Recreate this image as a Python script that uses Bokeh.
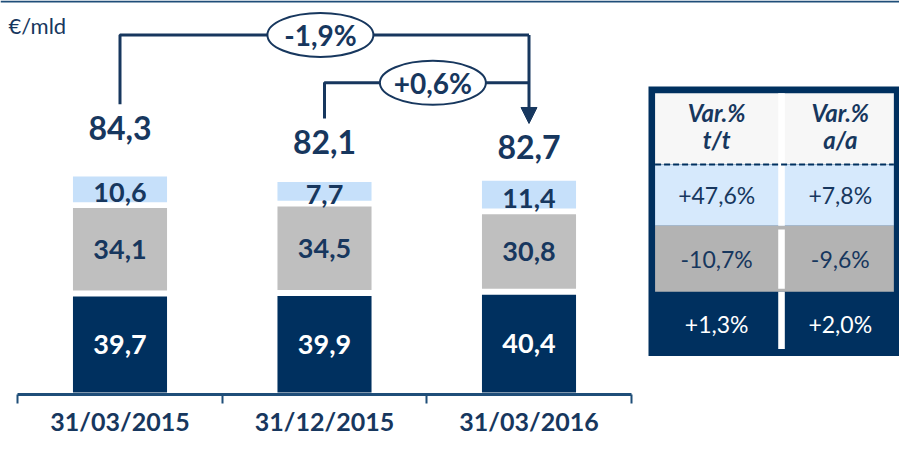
from bokeh.plotting import figure
from bokeh.models import Range1d, LinearAxis, FixedTicker, Span, Arrow, NormalHead
from bokeh.core.properties import value
from bokeh.embed import file_html
from bokeh.resources import INLINE

# ---------------- data ----------------
dates = ["31/03/2015", "31/12/2015", "31/03/2016"]
seg_bottom = [39.7, 39.9, 40.4]   # dark navy segment
seg_middle = [34.1, 34.5, 30.8]   # grey segment
seg_top = [10.6, 7.7, 11.4]       # light blue segment
totals = [84.3, 82.1, 82.7]
var_labels = ["-1,9%", "+0,6%"]
unit_label = "€/mld"
table_head_1 = ["Var.%", "Var.%"]
table_head_2 = ["t/t", "a/a"]
var_tt = ["+47,6%", "-10,7%", "+1,3%"]   # rows: light blue, grey, navy
var_aa = ["+7,8%", "-9,6%", "+2,0%"]

# ---------------- styles / layout ----------------
NAVY = "#00305F"
GREY = "#BFBFBF"
LIGHT = "#C6E0FA"
TXT = "#17375E"
AXIS = "#1F4E79"
T_HEAD = "#F7F7F7"
T_LIGHT = "#D6E9FC"
T_GREY = "#B3B3B3"
FONT = value("Lato")

W, H = 899, 438
PX_X, PX_Y = 204.5, 2.45   # pixels per data unit
X0_PX, Y0_PX = 119.5, 397  # pixel position of x=0 / y=0
GAP = 2.45          # white gap between stacked segments (data units)
BAR_W = 0.46
LABEL_LIFT = [20.2, 16.6, 14.0]   # total label height above the stack
CONNECT = 9.7                     # connector gap above total label
LEVEL_1, LEVEL_2 = 147.8, 128.0   # heights of the two bracket lines
ELL_X = [0.98, 1.53]


def fmt(v):
    return f"{v:.1f}".replace(".", ",")


def tx(px):   # layout helper: pixel -> data x
    return (px - X0_PX) / PX_X


def ty(py):   # layout helper: pixel -> data y
    return (Y0_PX - py) / PX_Y


def ttx(px):  # table squeezed to fit the canvas width
    return tx(648 + (px - 648) * (W - 648) / (915 - 648))


FRAME_H = 399
p = figure(width=W, height=H, x_range=Range1d(tx(0), tx(W)), y_range=Range1d(ty(FRAME_H), ty(0)),
           output_backend="svg", toolbar_location=None, x_axis_type=None, y_axis_type=None,
           min_border=0, min_border_bottom=H - FRAME_H, outline_line_color=None)
p.background_fill_color = "white"
p.border_fill_color = "white"

xs = list(range(len(dates)))

# stacked bars with gaps
top0 = seg_bottom[:]
bot1 = [t + GAP for t in top0]
top1 = [b + v for b, v in zip(bot1, seg_middle)]
bot2 = [t + GAP for t in top1]
top2 = [b + v for b, v in zip(bot2, seg_top)]

p.vbar(x=xs, bottom=0, top=top0, width=BAR_W, fill_color=NAVY, line_color=None)
p.vbar(x=xs, bottom=bot1, top=top1, width=BAR_W, fill_color=GREY, line_color=None)
p.vbar(x=xs, bottom=bot2, top=top2, width=BAR_W, fill_color=LIGHT, line_color=None)

p.text(x=xs, y=[v / 2 for v in top0], text=[fmt(v) for v in seg_bottom], text_font=FONT,
       text_font_size="27px", text_font_style="bold", text_color="white",
       text_align="center", text_baseline="middle")
p.text(x=xs, y=[(a + b) / 2 for a, b in zip(bot1, top1)], text=[fmt(v) for v in seg_middle],
       text_font=FONT, text_font_size="27px", text_font_style="bold", text_color=TXT,
       text_align="center", text_baseline="middle")
p.text(x=xs, y=[(a + b) / 2 - 1.5 for a, b in zip(bot2, top2)], text=[fmt(v) for v in seg_top],
       text_font=FONT, text_font_size="27px", text_font_style="bold", text_color=TXT,
       text_align="center", text_baseline="middle")

# totals
tot_y = [t + l for t, l in zip(top2, LABEL_LIFT)]
p.text(x=xs, y=tot_y, text=[fmt(v) for v in totals], text_font=FONT, text_font_size="32px",
       text_font_style="bold", text_color=TXT, text_align="center", text_baseline="middle")

# bracket connectors
p.line(x=[xs[0], xs[0], xs[2]], y=[tot_y[0] + CONNECT, LEVEL_1, LEVEL_1], line_color=TXT, line_width=3)
p.line(x=[xs[1], xs[1], xs[2]], y=[tot_y[1] + CONNECT, LEVEL_2, LEVEL_2], line_color=TXT, line_width=3)
p.add_layout(Arrow(end=NormalHead(size=16, fill_color=TXT, line_color=TXT),
                   x_start=xs[2], y_start=LEVEL_1, x_end=xs[2], y_end=tot_y[2] + CONNECT,
                   line_color=TXT, line_width=3))
p.ellipse(x=ELL_X, y=[LEVEL_1, LEVEL_2], width=106, height=44, width_units="screen",
          height_units="screen", fill_color="white", line_color=TXT, line_width=2)
p.text(x=ELL_X, y=[LEVEL_1, LEVEL_2], text=var_labels, text_font=FONT, text_font_size="28px",
       text_font_style="bold", text_color=TXT, text_align="center", text_baseline="middle")

# unit label
p.text(x=[tx(8)], y=[ty(25)], text=[unit_label], text_font=FONT, text_font_size="22px",
       text_color=TXT, text_align="left", text_baseline="middle")

# top rule
p.add_layout(Span(location=ty(1), dimension="width", line_color=AXIS, line_width=2))

# x axis with boundary ticks
ax = LinearAxis(ticker=FixedTicker(ticks=xs, minor_ticks=[-0.5, 0.5, 1.5, 2.5]), bounds=(-0.5, 2.5),
                major_label_overrides={i: d for i, d in enumerate(dates)},
                axis_line_color=AXIS, axis_line_width=3,
                major_tick_line_color=None, major_tick_out=0, major_tick_in=0,
                minor_tick_line_color=AXIS, minor_tick_line_width=2, minor_tick_out=9, minor_tick_in=0,
                major_label_standoff=2, major_label_text_font="Lato",
                major_label_text_font_size="25px", major_label_text_font_style="bold",
                major_label_text_color=TXT)
p.add_layout(ax, "below")

# ---------------- table ----------------
row_edges = [94, 166, 228, 295, 360]
row_fill = [T_HEAD, T_LIGHT, T_GREY]
col_c = [720.5, 852]

p.quad(left=[ttx(648)], right=[ttx(915)], top=[ty(87)], bottom=[ty(360)], fill_color=NAVY, line_color=None)
p.quad(left=[ttx(655)] * 3, right=[ttx(909)] * 3, top=[ty(r) for r in row_edges[:3]],
       bottom=[ty(r) for r in row_edges[1:4]], fill_color=row_fill, line_color=None)
# white column divider pieces
p.quad(left=[ttx(786)] * 3, right=[ttx(793)] * 3, top=[ty(94), ty(232), ty(295)],
       bottom=[ty(228), ty(292), ty(353)], fill_color="white", line_color=None)
p.line(x=[ttx(655), ttx(909)], y=[ty(166), ty(166)], line_color=NAVY, line_width=2, line_dash="6 3")

p.text(x=[ttx(c) for c in col_c], y=[ty(113)] * 2, text=table_head_1, text_font=FONT,
       text_font_size="24px", text_font_style="bold italic", text_color=TXT,
       text_align="center", text_baseline="middle")
p.text(x=[ttx(c) for c in col_c], y=[ty(141)] * 2, text=table_head_2, text_font=FONT,
       text_font_size="24px", text_font_style="bold italic", text_color=TXT,
       text_align="center", text_baseline="middle")
row_mid = [(a + b) / 2 for a, b in zip(row_edges[1:4], row_edges[2:5])]
row_col = [TXT, TXT, "white"]
for vals, c in ((var_tt, col_c[0]), (var_aa, col_c[1])):
    p.text(x=[ttx(c)] * 3, y=[ty(r) for r in row_mid], text=vals, text_font=FONT,
           text_font_size="23px", text_color=row_col, text_align="center", text_baseline="middle")

open("out.html", "w").write(file_html(p, INLINE))
